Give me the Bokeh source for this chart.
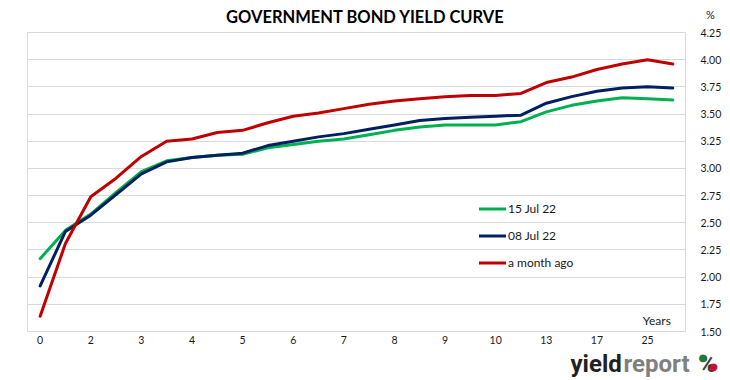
from bokeh.plotting import figure
from bokeh.layouts import column
from bokeh.models import Range1d, FixedTicker, Label, Legend, LegendItem, NumeralTickFormatter
from bokeh.embed import file_html
from bokeh.resources import INLINE

# maturities (years) for each point on the curve
maturities = ["0", "1", "2", "2.5", "3", "3.5", "4", "4.5", "5", "5.5", "6", "6.5",
              "7", "7.5", "8", "8.5", "9", "9.5", "10", "12", "13", "15", "17", "20", "25", "30"]
shown_labels = ["0", "2", "3", "4", "5", "6", "7", "8", "9", "10", "13", "17", "25"]

yield_15jul = [2.17, 2.43, 2.58, 2.78, 2.97, 3.07, 3.10, 3.12, 3.13, 3.19, 3.22, 3.25,
               3.27, 3.31, 3.35, 3.38, 3.40, 3.40, 3.40, 3.43, 3.52, 3.58, 3.62, 3.65, 3.64, 3.63]
yield_08jul = [1.92, 2.42, 2.57, 2.76, 2.95, 3.06, 3.10, 3.12, 3.14, 3.21, 3.25, 3.29,
               3.32, 3.36, 3.40, 3.44, 3.46, 3.47, 3.48, 3.49, 3.60, 3.66, 3.71, 3.74, 3.75, 3.74]
yield_month_ago = [1.64, 2.31, 2.74, 2.91, 3.11, 3.25, 3.27, 3.33, 3.35, 3.42, 3.48, 3.51,
                   3.55, 3.59, 3.62, 3.64, 3.66, 3.67, 3.67, 3.69, 3.79, 3.84, 3.91, 3.96, 4.00, 3.96]

series_names = ["15 Jul 22", "08 Jul 22", "a month ago"]
series_colors = ["#00b050", "#002060", "#c00000"]

FONT = "Lato"
TXT = "#1a1a1a"
W = 730


def blank_fig(height, y0, y1):
    f = figure(width=W, height=height, output_backend="svg", toolbar_location=None,
               x_range=Range1d(0, W), y_range=Range1d(y1, y0),
               min_border=0, min_border_left=0, min_border_right=0,
               min_border_top=0, min_border_bottom=0, frame_align=False)
    f.axis.visible = False
    f.grid.visible = False
    f.outline_line_color = None
    return f


# ---- title strip (page y 0..26) ----
top = blank_fig(26, 0, 26)
top.add_layout(Label(x=365, y=16, text="GOVERNMENT BOND YIELD CURVE", text_align="center",
                     text_baseline="middle", text_font=FONT, text_font_style="bold",
                     text_font_size="16.5px", text_color="#000000"))
top.add_layout(Label(x=710, y=13.5, text="%", text_align="center", text_baseline="middle",
                     text_font=FONT, text_font_size="11px", text_color=TXT))

# ---- main chart (page y 26..348) ----
x = list(range(len(maturities)))

p = figure(width=W, height=322, output_backend="svg", toolbar_location=None,
           x_range=Range1d(-0.5, len(maturities) - 0.5), y_range=Range1d(1.5, 4.25),
           y_axis_location="right", frame_align=False,
           min_border_left=27, min_border_right=45, min_border_top=6, min_border_bottom=17)

p.outline_line_color = "#d9d9d9"
p.outline_line_width = 1
p.xgrid.grid_line_color = None
p.ygrid.grid_line_color = "#d9d9d9"
p.ygrid.grid_line_width = 1

tick_idx = [maturities.index(m) for m in shown_labels]
p.xaxis.ticker = FixedTicker(ticks=tick_idx)
p.xaxis.major_label_overrides = {i: maturities[i] for i in tick_idx}
p.yaxis.ticker = FixedTicker(ticks=[1.5 + 0.25 * k for k in range(12)])
p.yaxis.formatter = NumeralTickFormatter(format="0.00")

for ax in (p.xaxis[0], p.yaxis[0]):
    ax.axis_line_color = None
    ax.major_tick_line_color = None
    ax.minor_tick_line_color = None
    ax.major_tick_out = 0
    ax.major_tick_in = 0
    ax.major_label_text_font = FONT
    ax.major_label_text_font_size = "10.5px"
    ax.major_label_text_color = TXT
p.xaxis.major_label_standoff = 4
p.yaxis.major_label_standoff = 15

renderers = []
for ys, c in zip([yield_15jul, yield_08jul, yield_month_ago], series_colors):
    r = p.line(x, ys, line_color=c, line_width=3, line_join="round", line_cap="round")
    renderers.append(r)

legend = Legend(items=[LegendItem(label=n, renderers=[r]) for n, r in zip(series_names, renderers)],
                location=(452, 61), orientation="vertical",
                label_text_font=FONT, label_text_font_size="12px", label_text_color=TXT,
                glyph_width=27, glyph_height=15, label_height=15, label_standoff=2,
                spacing=12, padding=0, margin=0,
                border_line_color=None, background_fill_alpha=0)
p.add_layout(legend, "center")

p.add_layout(Label(x=24.92, y=1.60, text="Years", text_align="right", text_baseline="middle",
                   text_font=FONT, text_font_size="12px", text_color=TXT))

# ---- logo strip (page y 348..380) ----
bot = blank_fig(32, 348, 380)
for txt, x0, col in [("yield", 570, "#231f20"), ("report", 623, "#808080"), ("%", 698, "#3a3a3a")]:
    bot.add_layout(Label(x=x0, y=363, text=txt, text_align="left", text_baseline="middle",
                         text_font="Roboto", text_font_style="bold", text_font_size="24px",
                         text_color=col))
bot.add_layout(Label(x=702.3, y=357, text="\u25cf", text_align="center", text_baseline="middle",
                     text_font="DejaVu Sans", text_font_size="10px", text_color="#1e7b3c"))
bot.add_layout(Label(x=713.0, y=366, text="\u25cf", text_align="center", text_baseline="middle",
                     text_font="DejaVu Sans", text_font_size="10px", text_color="#c8102e"))

layout = column(top, p, bot, spacing=0)
open("out.html", "w").write(file_html(layout, INLINE))
